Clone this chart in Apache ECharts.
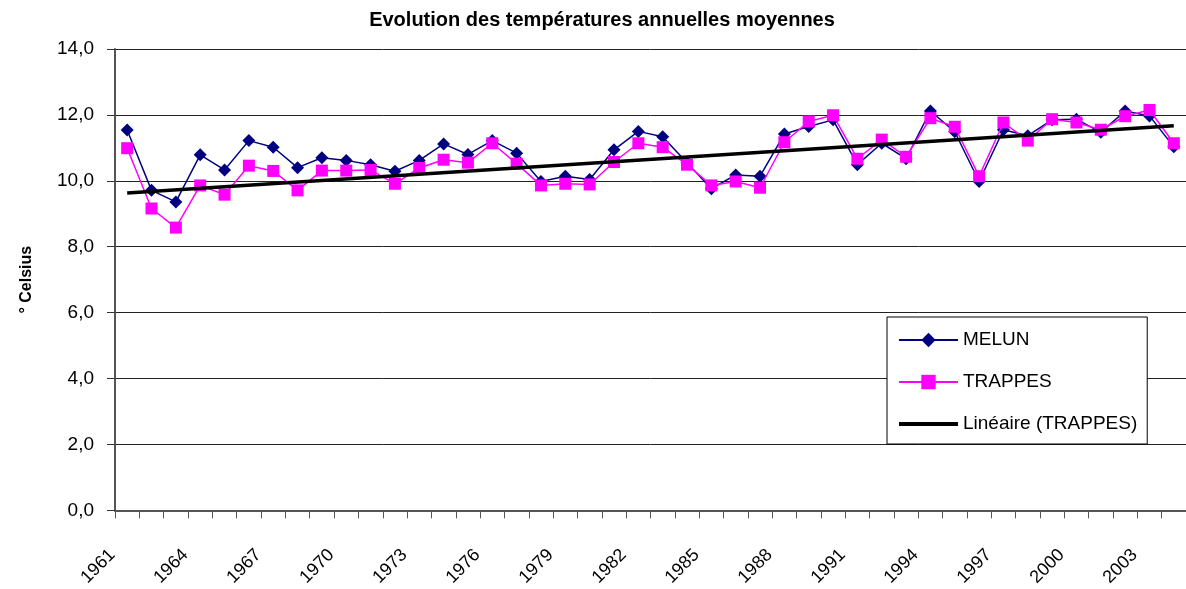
<!DOCTYPE html>
<html>
<head>
<meta charset="utf-8">
<script src="https://cdn.jsdelivr.net/npm/echarts@6/dist/echarts.min.js"></script>
<style>
html,body{margin:0;padding:0;background:#fff;}
#chart{width:1186px;height:589px;}
</style>
</head>
<body>
<div id="chart"></div>
<script>
const years = ['1961','1962','1963','1964','1965','1966','1967','1968','1969','1970','1971','1972','1973','1974','1975','1976','1977','1978','1979','1980','1981','1982','1983','1984','1985','1986','1987','1988','1989','1990','1991','1992','1993','1994','1995','1996','1997','1998','1999','2000','2001','2002','2003','2004'];
const melun = [11.54,9.71,9.36,10.79,10.33,11.22,11.02,10.40,10.70,10.62,10.49,10.29,10.62,11.12,10.80,11.22,10.84,9.98,10.14,10.04,10.94,11.50,11.34,10.55,9.76,10.18,10.14,11.42,11.65,11.85,10.49,11.14,10.67,12.12,11.49,9.98,11.55,11.37,11.85,11.87,11.47,12.12,11.97,11.03];
const trappes = [10.99,9.16,8.58,9.86,9.58,10.46,10.30,9.71,10.31,10.31,10.33,9.91,10.39,10.64,10.55,11.14,10.52,9.86,9.91,9.89,10.57,11.14,11.02,10.49,9.86,9.98,9.79,11.17,11.80,11.99,10.67,11.25,10.73,11.90,11.64,10.14,11.77,11.22,11.87,11.77,11.55,11.96,12.15,11.14];
const trendYears = ['1961','2004'];
const trendValues = [9.63, 11.67];
const yTickLabels = ['0,0','2,0','4,0','6,0','8,0','10,0','12,0','14,0'];

const chart = echarts.init(document.getElementById('chart'), null, {renderer:'canvas'});
const font = 'Liberation Sans, Arial, sans-serif';
chart.setOption({
  backgroundColor:'#fff',
  animation:false,
  title:{
    text:'Evolution des températures annuelles moyennes',
    left:597, top:5, textAlign:'center',
    textStyle:{fontFamily:font,fontSize:20,fontWeight:'bold',color:'#000'}
  },
  legend:{
    orient:'vertical',
    left:887, top:317,
    backgroundColor:'#fff',
    borderColor:'#000', borderWidth:1,
    padding:[12,10,9,10],
    itemWidth:59, itemHeight:18, itemGap:20,
    textStyle:{fontFamily:font,fontSize:19,color:'#000',lineHeight:22},
    data:[
      {name:'MELUN'},
      {name:'TRAPPES'},
      {name:'Linéaire (TRAPPES)', itemStyle:{opacity:0}, lineStyle:{width:4,color:'#000'}}
    ]
  },
  grid:{left:115, top:49, width:1074, height:464.5, containLabel:false},
  xAxis:{
    type:'category',
    data:years,
    boundaryGap:true,
    axisLine:{lineStyle:{color:'#555',width:2}},
    axisTick:{show:true,interval:0,length:8,lineStyle:{color:'#555',width:1}},
    axisLabel:{interval:2,rotate:45,margin:27,padding:[0,21,0,0],fontFamily:font,fontSize:18,color:'#000'},
    splitLine:{show:false}
  },
  yAxis:{
    type:'value',
    min:0, max:14, interval:2,
    name:'° Celsius',
    nameLocation:'middle',
    nameGap:80,
    nameRotate:90,
    nameTextStyle:{fontFamily:font,fontSize:16,fontWeight:'bold',color:'#000'},
    axisLine:{show:true,lineStyle:{color:'#555',width:2}},
    axisTick:{show:true,length:8,lineStyle:{color:'#333'}},
    axisLabel:{margin:21,fontFamily:font,fontSize:19,color:'#000',
      formatter:function(v){return yTickLabels[Math.round(v/2)];}},
    splitLine:{show:true,lineStyle:{color:'#222',width:1}}
  },
  series:[
    {name:'MELUN',type:'line',data:melun,z:2,
     symbol:'diamond',symbolSize:13,
     lineStyle:{color:'#000080',width:1.5},
     itemStyle:{color:'#000080'}},
    {name:'TRAPPES',type:'line',data:trappes,z:3,
     symbol:'rect',symbolSize:12,
     lineStyle:{color:'#FF00FF',width:1.5},
     itemStyle:{color:'#FF00FF'}},
    {name:'Linéaire (TRAPPES)',type:'line',z:4,
     data:trendYears.map((y,i)=>[y,trendValues[i]]),
     symbol:'none',
     lineStyle:{color:'#000',width:3.5},
     itemStyle:{color:'#000'}}
  ]
});
</script>
</body>
</html>
